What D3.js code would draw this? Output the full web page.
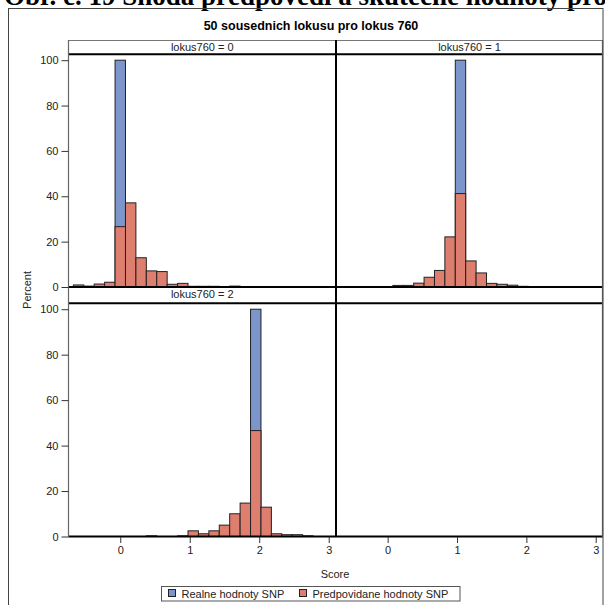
<!DOCTYPE html>
<html><head><meta charset="utf-8">
<script src="https://cdn.jsdelivr.net/npm/d3@7/dist/d3.min.js"></script>
<style>body{margin:0;background:#fff;}svg{display:block;}</style>
</head><body>
<script>
// ---- data ----
const caption = "Obr. č. 19 Shoda předpovědí a skutečné hodnoty pro";
const chartTitle = "50 sousednich lokusu pro lokus 760";
const panelLabels = ["lokus760 = 0", "lokus760 = 1", "lokus760 = 2"];
const seriesNames = ["Realne hodnoty SNP", "Predpovidane hodnoty SNP"];
const binWidth = 0.15;
// real values (one bin with 100 %)
const realMid = [0, 1.05, 1.95];
const realPct = [100, 100, 100];
// predicted values per panel
const predMid0 = [-0.6,-0.45,-0.3,-0.15,0,0.15,0.3,0.45,0.6,0.75,0.9,1.05,1.2,1.35,1.65];
const predPct0 = [0.9,0.4,1.3,2.1,26.6,37.1,12.9,7.1,6.8,1.2,1.6,0.3,0.3,0.3,0.4];
const predMid1 = [0.15,0.3,0.45,0.6,0.75,0.9,1.05,1.2,1.35,1.5,1.65,1.8,1.95];
const predPct1 = [0.7,0.7,1.7,4.3,7.3,22.1,41.2,11.5,6.2,1.6,1.2,0.8,0.3];
const predMid2 = [0.45,0.9,1.05,1.2,1.35,1.5,1.65,1.8,1.95,2.1,2.25,2.4,2.55,2.7];
const predPct2 = [0.3,0.3,2.5,1.2,2.5,5.0,10.0,14.7,46.6,12.9,1.2,0.8,0.8,0.3];
const xTicks = [0, 1, 2, 3];
const yTicks = [0, 20, 40, 60, 80, 100];
const xLabel = "Score", yLabel = "Percent";

const predMids = [predMid0, predMid1, predMid2];
const predPcts = [predPct0, predPct1, predPct2];

// ---- layout ----
const W = 605, H = 605;
const colX = [[68.5, 336], [336, 603]];
const rows = [{head: 40, top: 54.3, bottom: 287}, {head: 287, top: 303.3, bottom: 536.5}];
const cells = [{c:0,r:0},{c:1,r:0},{c:0,r:1}];
const colBlue = "#7C95CA", colRed = "#DE7E6F";
const font = "'Liberation Sans', Arial, sans-serif";

const svg = d3.select("body").append("svg").attr("width", W).attr("height", H)
  .style("font-family", font);

// caption (clipped at top, as in the source page)
svg.append("text").attr("x", 4).attr("y", 5)
  .style("font-family", "'Liberation Serif', 'Times New Roman', serif")
  .style("font-weight", "bold").style("font-size", "27px")
  .attr("fill", "#000").text(caption);

// outer frame
svg.append("rect").attr("x", 8.5).attr("y", 8.5).attr("width", 594.5).attr("height", 620)
  .attr("fill", "none").attr("stroke", "#444").attr("stroke-width", 1);

svg.append("text").attr("x", 311).attr("y", 30).attr("text-anchor", "middle")
  .style("font-weight", "bold").style("font-size", "12.5px").text(chartTitle);

const yMax = 102.6;
const xScales = colX.map(([a, b]) => d3.scaleLinear().domain([-0.745, 3.105]).range([a, b]));
const yScales = rows.map(r => d3.scaleLinear().domain([0, yMax]).range([r.bottom, r.top]));

// bars
cells.forEach((cell, i) => {
  const x = xScales[cell.c], y = yScales[cell.r];
  const g = svg.append("g");
  g.append("rect")
    .attr("x", x(realMid[i] - binWidth / 2)).attr("width", x(binWidth) - x(0))
    .attr("y", y(realPct[i])).attr("height", y(0) - y(realPct[i]))
    .attr("fill", colBlue).attr("stroke", "#222").attr("stroke-width", 1);
  const d = predMids[i].map((m, j) => ({m, p: predPcts[i][j]}));
  g.selectAll("rect.p").data(d).enter().append("rect").attr("class", "p")
    .attr("x", e => x(e.m - binWidth / 2)).attr("width", x(binWidth) - x(0))
    .attr("y", e => y(e.p)).attr("height", e => y(0) - y(e.p))
    .attr("fill", colRed).attr("stroke", "#222").attr("stroke-width", 1);
});

// headers
cells.forEach((cell, i) => {
  const [a, b] = colX[cell.c], r = rows[cell.r];
  svg.append("text").attr("x", (a + b) / 2).attr("y", r.head + 11)
    .attr("text-anchor", "middle").style("font-size", "11px").attr("fill", "#222")
    .text(panelLabels[i]);
});

// grid lines
const line = (x1, y1, x2, y2, c, w) => svg.append("line").attr("x1", x1).attr("y1", y1)
  .attr("x2", x2).attr("y2", y2).attr("stroke", c).attr("stroke-width", w);
line(68.5, 40.5, 603, 40.5, "#777", 1);
line(68.5, 54.3, 603, 54.3, "#000", 2);
line(68.5, 287, 603, 287, "#000", 2);
line(68.5, 303.3, 603, 303.3, "#000", 2);
line(68.5, 536.5, 603, 536.5, "#000", 2);
line(68.5, 40, 68.5, 537, "#666", 1.2);
line(336, 40, 336, 537, "#000", 2);
line(602.5, 40, 602.5, 537, "#555", 1.2);

// y axes
rows.forEach((r, ri) => {
  const ax = svg.append("g").attr("transform", `translate(68.5,0)`)
    .call(d3.axisLeft(yScales[ri]).tickValues(yTicks).tickSize(7).tickPadding(3));
  ax.select(".domain").remove();
  ax.selectAll("line").attr("stroke", "#333");
  ax.selectAll("text").style("font-size", "11px").style("font-family", font).attr("fill", "#222");
});

// x axes
colX.forEach((c, ci) => {
  const ax = svg.append("g").attr("transform", `translate(0,537)`)
    .call(d3.axisBottom(xScales[ci]).tickValues(xTicks).tickFormat(d3.format("d"))
      .tickSize(6).tickPadding(3));
  ax.select(".domain").remove();
  ax.selectAll("line").attr("stroke", "#333");
  ax.selectAll("text").style("font-size", "11px").style("font-family", font).attr("fill", "#222");
});

svg.append("text").attr("x", 335).attr("y", 578).attr("text-anchor", "middle")
  .style("font-size", "11px").attr("fill", "#222").text(xLabel);
svg.append("text").attr("transform", "translate(31,290) rotate(-90)").attr("text-anchor", "middle")
  .style("font-size", "11px").attr("fill", "#222").text(yLabel);

// legend
svg.append("rect").attr("x", 161.5).attr("y", 586.5).attr("width", 298.5).attr("height", 14.5)
  .attr("fill", "#fff").attr("stroke", "#555");
const legX = [168.5, 299.5], legTX = [181.5, 312.5], legC = [colBlue, colRed];
seriesNames.forEach((n, i) => {
  svg.append("rect").attr("x", legX[i]).attr("y", 589.5).attr("width", 7).attr("height", 7)
    .attr("fill", legC[i]).attr("stroke", "#222");
  svg.append("text").attr("x", legTX[i]).attr("y", 597.5).style("font-size", "11px")
    .attr("fill", "#222").text(n);
});
</script>
</body></html>
